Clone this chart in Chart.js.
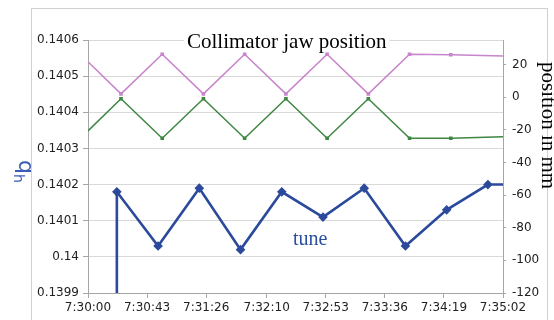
<!DOCTYPE html>
<html>
<head>
<meta charset="utf-8">
<script src="https://cdn.jsdelivr.net/npm/chart.js@4.4.0/dist/chart.umd.min.js"></script>
<style>
  html, body { margin: 0; padding: 0; background: #fff; }
  canvas { display: block; }
</style>
</head>
<body>
<canvas id="chart" width="554" height="320"></canvas>
<script>
// 横轴时间标签
const timeLabels = ['7:30:00', '7:30:43', '7:31:26', '7:32:10', '7:32:53', '7:33:36', '7:34:19', '7:35:02'];
// 左轴 (q_h) 与右轴 (mm) 刻度
const tuneTicks = [0.1399, 0.14, 0.1401, 0.1402, 0.1403, 0.1404, 0.1405, 0.1406];
const posTicks = [-120, -100, -80, -60, -40, -20, 0, 20];

// tune 数据
const tuneTimes = ['7:30:21', '7:30:21', '7:30:51', '7:31:21', '7:31:51', '7:32:21', '7:32:51', '7:33:21', '7:33:51', '7:34:21', '7:34:51', '7:35:02'];
const tuneValues = [0.1399, 0.14018, 0.14003, 0.14019, 0.14002, 0.14018, 0.14011, 0.14019, 0.14003, 0.14013, 0.1402, 0.1402];

// 准直器位置数据
const jawTimes = ['7:30:00', '7:30:24', '7:30:54', '7:31:24', '7:31:54', '7:32:24', '7:32:54', '7:33:24', '7:33:54', '7:34:24', '7:35:02'];
const upperJaw = [21.7, 2, 26.3, 2, 26.3, 2, 26.3, 2, 26.3, 26, 25.2];
const lowerJaw = [-20.7, -1, -25.2, -1, -25.2, -1, -25.2, -1, -25.2, -25.2, -24.2];

// 把 "h:mm:ss" 换算成相对 7:30:00 的秒数
function toSec(label) {
  const [h, m, s] = label.split(':').map(Number);
  return h * 3600 + m * 60 + s - (7 * 3600 + 30 * 60);
}

function points(times, values) {
  return times.map((t, i) => ({ x: toSec(t), y: values[i] }));
}

// 首尾点不画标记
function endRadius(arr, r) {
  return arr.map((_, i) => (i === 0 || i === arr.length - 1) ? 0 : r);
}

const tickFont = { family: 'DejaVu Sans', size: 12 };
const axisGrey = '#a6a6a6';

// 外框、标题和文字标注
const decorations = {
  id: 'decorations',
  beforeDraw(chart) {
    const ctx = chart.ctx;
    ctx.save();
    ctx.fillStyle = '#fff';
    ctx.fillRect(0, 0, chart.width, chart.height);
    ctx.strokeStyle = '#d0d0d0';
    ctx.lineWidth = 1;
    ctx.strokeRect(31.5, 8.5, 516, 330);
    ctx.restore();
  },
  afterDraw(chart) {
    const ctx = chart.ctx;
    ctx.save();
    // 标题 (白底盖住顶部网格线)
    ctx.font = '21px "Liberation Serif"';
    const title = 'Collimator jaw position';
    const tw = ctx.measureText(title).width;
    ctx.fillStyle = '#fff';
    ctx.fillRect(184, 30, tw + 6, 22);
    ctx.fillStyle = '#000';
    ctx.textBaseline = 'alphabetic';
    ctx.fillText(title, 187, 48);

    // tune 标注
    ctx.fillStyle = '#2a4ea0';
    ctx.font = '20px "Liberation Serif"';
    ctx.fillText('tune', 293, 245);

    // 左轴标题 q_h
    ctx.save();
    ctx.translate(19, 160);
    ctx.rotate(Math.PI / 2);
    ctx.fillStyle = '#3a5cb8';
    ctx.font = '22px "DejaVu Sans"';
    ctx.fillText('q', 0, 0);
    const qw = ctx.measureText('q').width;
    ctx.font = '14px "DejaVu Sans"';
    ctx.fillText('h', qw, 5);
    ctx.restore();

    // 右轴标题
    ctx.save();
    ctx.translate(542, 62);
    ctx.rotate(Math.PI / 2);
    ctx.fillStyle = '#000';
    ctx.font = '21px "Liberation Serif"';
    ctx.fillText('position in mm', 0, 0);
    ctx.restore();
    ctx.restore();
  }
};

const chart = new Chart(document.getElementById('chart'), {
  type: 'line',
  data: {
    datasets: [
      {
        label: 'tune',
        data: points(tuneTimes, tuneValues),
        yAxisID: 'y',
        borderColor: '#2b4a9c',
        backgroundColor: '#2b4a9c',
        borderWidth: 2.6,
        pointStyle: 'rectRot',
        pointRadius: endRadius(tuneValues, 3),
        tension: 0
      },
      {
        label: 'upper jaw',
        data: points(jawTimes, upperJaw),
        yAxisID: 'y2',
        borderColor: '#c884cc',
        backgroundColor: '#c884cc',
        borderWidth: 1.5,
        pointStyle: 'rect',
        pointRadius: endRadius(upperJaw, 1.5),
        tension: 0
      },
      {
        label: 'lower jaw',
        data: points(jawTimes, lowerJaw),
        yAxisID: 'y2',
        borderColor: '#3f8743',
        backgroundColor: '#3f8743',
        borderWidth: 1.5,
        pointStyle: 'rect',
        pointRadius: endRadius(lowerJaw, 1.5),
        tension: 0
      }
    ]
  },
  options: {
    responsive: false,
    devicePixelRatio: 1,
    animation: false,
    layout: { padding: { top: 40, left: 0, right: 0, bottom: 0 } },
    plugins: {
      legend: { display: false },
      tooltip: { enabled: false },
      title: { display: false }
    },
    scales: {
      x: {
        type: 'linear',
        min: 0,
        max: toSec(timeLabels[timeLabels.length - 1]),
        afterBuildTicks: scale => { scale.ticks = timeLabels.map(l => ({ value: toSec(l) })); },
        afterFit: scale => { scale.height = 27; },
        grid: { drawOnChartArea: false, drawTicks: true, tickLength: 5, color: axisGrey },
        border: { color: axisGrey },
        ticks: {
          autoSkip: false,
          maxRotation: 0,
          padding: 3,
          color: '#222',
          font: tickFont,
          callback: (v, i) => timeLabels[i]
        }
      },
      y: {
        position: 'left',
        min: tuneTicks[0],
        max: tuneTicks[tuneTicks.length - 1],
        afterBuildTicks: scale => { scale.ticks = tuneTicks.map(v => ({ value: v })); },
        afterFit: scale => { scale.width = 88; },
        grid: { color: '#d9d9d9', tickColor: axisGrey, tickLength: 5 },
        border: { color: axisGrey },
        ticks: {
          padding: 4,
          color: '#222',
          font: tickFont,
          callback: v => String(Number(v.toFixed(4)))
        }
      },
      y2: {
        position: 'right',
        min: -120,
        max: 35,
        afterBuildTicks: scale => { scale.ticks = posTicks.map(v => ({ value: v })); },
        afterFit: scale => { scale.width = 51; },
        grid: { drawOnChartArea: false, color: axisGrey, tickLength: 3 },
        border: { color: axisGrey },
        ticks: {
          padding: 6,
          color: '#222',
          font: tickFont
        }
      }
    }
  },
  plugins: [decorations]
});
</script>
</body>
</html>
